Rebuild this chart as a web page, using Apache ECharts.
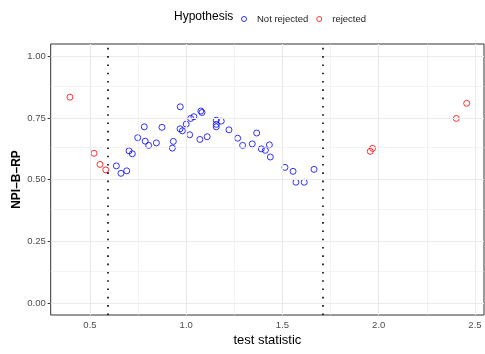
<!DOCTYPE html>
<html>
<head>
<meta charset="utf-8">
<script src="https://cdn.jsdelivr.net/npm/echarts@6/dist/echarts.min.js"></script>
<style>
  html, body { margin: 0; padding: 0; background: #fff; }
  #chart { width: 485px; height: 354px; }
</style>
</head>
<body>
<div id="chart"></div>
<script>
// test statistic / NPI-B-RP
const notRejectedX = [0.637, 0.661, 0.691, 0.703, 0.720, 0.748, 0.782, 0.787, 0.805, 0.845,
  0.874, 0.928, 0.933, 0.969, 0.968, 0.980, 1.000, 1.018, 1.023, 1.040,
  1.071, 1.076, 1.082, 1.109, 1.156, 1.156, 1.156, 1.182, 1.222, 1.267,
  1.293, 1.343, 1.366, 1.390, 1.411, 1.432, 1.437, 1.513, 1.555, 1.570,
  1.613, 1.664]
const notRejectedY = [0.556, 0.526, 0.536, 0.617, 0.605, 0.670, 0.714, 0.656, 0.639, 0.649,
  0.712, 0.628, 0.655, 0.795, 0.706, 0.698, 0.725, 0.682, 0.748, 0.755,
  0.663, 0.778, 0.772, 0.674, 0.741, 0.724, 0.714, 0.737, 0.702, 0.668,
  0.639, 0.645, 0.689, 0.625, 0.619, 0.641, 0.592, 0.550, 0.534, 0.490,
  0.490, 0.542]
const rejectedX = [0.396, 0.521, 0.552, 0.582, 1.956, 1.968, 2.403, 2.457]
const rejectedY = [0.834, 0.607, 0.562, 0.540, 0.615, 0.627, 0.748, 0.809]
const cutoffs = [0.588, 1.705]

const xTicks = [0.5, 1.0, 1.5, 2.0, 2.5]
const xMinor = [0.75, 1.25, 1.75, 2.25]
const yTicks = [0, 0.25, 0.5, 0.75, 1]
const yMinor = [0.125, 0.375, 0.625, 0.875]

const font = 'Liberation Sans'
const zip = (xs, ys) => xs.map((x, i) => [x, ys[i]])

const gridLines = []
xMinor.forEach(v => gridLines.push({ xAxis: v, lineStyle: { color: '#ebebeb', width: 0.6, type: 'solid' } }))
yMinor.forEach(v => gridLines.push({ yAxis: v, lineStyle: { color: '#ebebeb', width: 0.6, type: 'solid' } }))
xTicks.forEach(v => gridLines.push({ xAxis: v, lineStyle: { color: '#ebebeb', width: 1.2, type: 'solid' } }))
yTicks.forEach(v => gridLines.push({ yAxis: v, lineStyle: { color: '#ebebeb', width: 1.2, type: 'solid' } }))

const chart = echarts.init(document.getElementById('chart'))
chart.setOption({
  animation: false,
  backgroundColor: '#fff',
  textStyle: { fontFamily: font },
  title: {
    text: 'Hypothesis',
    left: 169,
    top: 6,
    textStyle: { fontFamily: font, fontSize: 12, fontWeight: 'normal', color: '#000' }
  },
  legend: {
    data: ['Not rejected', 'rejected'],
    left: 236,
    top: 9,
    itemWidth: 8,
    itemHeight: 5,
    itemGap: 8,
    itemStyle: { borderWidth: 1 },
    textStyle: { fontFamily: font, fontSize: 9.5, color: '#1a1a1a', padding: [0, 0, 0, 4] }
  },
  grid: {
    left: 50.7,
    right: 1,
    top: 44,
    bottom: 39,
    outerBoundsMode: 'none',
    containLabel: false,
    show: true,
    borderColor: '#333',
    borderWidth: 1,
    backgroundColor: '#fff'
  },
  xAxis: {
    type: 'value',
    min: 0.296,
    max: 2.547,
    name: 'test statistic',
    nameLocation: 'middle',
    nameGap: 19,
    nameMoveOverlap: false,
    nameTextStyle: { fontFamily: font, fontSize: 13, color: '#000' },
    axisLine: { show: false },
    splitLine: { show: false },
    axisTick: { show: true, length: 3, customValues: xTicks, lineStyle: { color: '#333' } },
    axisLabel: {
      customValues: xTicks,
      margin: 5,
      fontSize: 9.5,
      color: '#4d4d4d',
      formatter: v => v.toFixed(1)
    }
  },
  yAxis: {
    type: 'value',
    min: -0.047,
    max: 1.049,
    name: 'NPI–B–RP',
    nameLocation: 'middle',
    nameGap: 28,
    nameMoveOverlap: false,
    nameTextStyle: { fontFamily: font, fontSize: 12, fontWeight: 'bold', color: '#000' },
    axisLine: { show: false },
    splitLine: { show: false },
    axisTick: { show: true, length: 3, customValues: yTicks, lineStyle: { color: '#333' } },
    axisLabel: {
      customValues: yTicks,
      margin: 5,
      fontSize: 9.5,
      color: '#4d4d4d',
      formatter: v => v.toFixed(2)
    }
  },
  series: [
    {
      name: 'grid',
      type: 'scatter',
      data: [],
      z: 1,
      silent: true,
      markLine: {
        silent: true,
        symbol: 'none',
        label: { show: false },
        animation: false,
        data: gridLines
      }
    },
    {
      name: 'cutoff',
      type: 'scatter',
      data: [],
      z: 2,
      silent: true,
      markLine: {
        silent: true,
        symbol: 'none',
        label: { show: false },
        animation: false,
        lineStyle: { color: '#000', width: 1.6, type: [1.6, 6.7] },
        data: cutoffs.map(v => ({ xAxis: v }))
      }
    },
    {
      name: 'Not rejected',
      type: 'scatter',
      z: 3,
      symbol: 'circle',
      symbolSize: 6,
      itemStyle: { color: 'rgba(0,0,0,0)', borderColor: '#0000ff', borderWidth: 1 },
      data: zip(notRejectedX, notRejectedY)
    },
    {
      name: 'rejected',
      type: 'scatter',
      z: 3,
      symbol: 'circle',
      symbolSize: 6,
      itemStyle: { color: 'rgba(0,0,0,0)', borderColor: '#ff0000', borderWidth: 1 },
      data: zip(rejectedX, rejectedY)
    }
  ]
})
</script>
</body>
</html>
